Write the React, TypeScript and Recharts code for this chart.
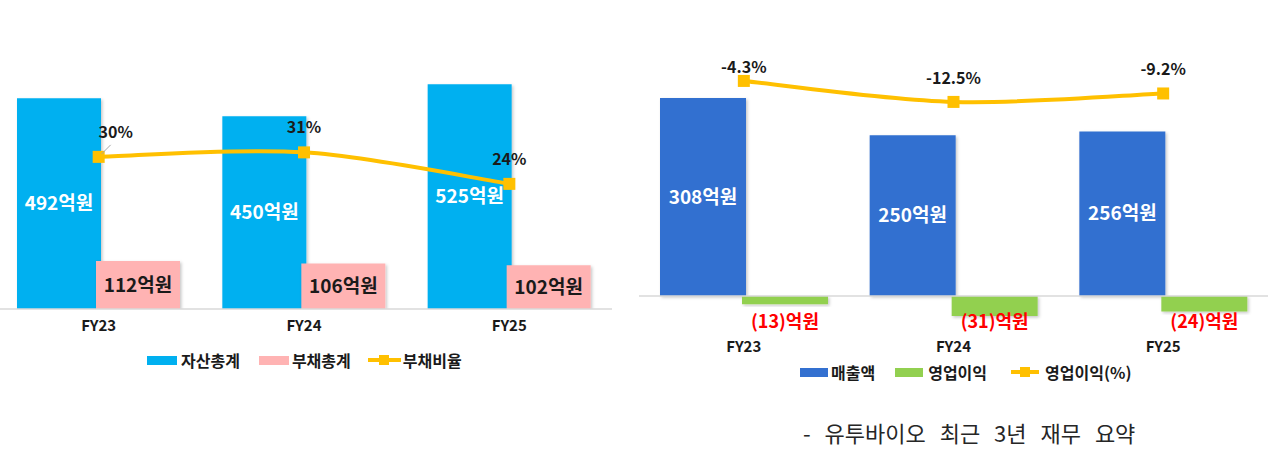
import React from 'react';
import { ComposedChart, Bar, Line, XAxis, YAxis, LabelList, ReferenceLine } from 'recharts';

const FONT = '"Noto Sans CJK KR", "Noto Sans", sans-serif';

// ---- data ----
const years = ['FY23', 'FY24', 'FY25'];
const totalAssets = [492, 450, 525];
const totalLiabilities = [112, 106, 102];
const debtRatio = [30, 31, 24];
const revenue = [308, 250, 256];
const operatingProfit = [-13, -31, -24];
const operatingMargin = [-4.3, -12.5, -9.2];

const leftData = years.map((y, i) => ({
  year: y,
  assets: totalAssets[i],
  liabilities: totalLiabilities[i],
  ratio: debtRatio[i],
}));

const rightData = years.map((y, i) => ({
  year: y,
  revenue: revenue[i],
  profit: operatingProfit[i],
  margin: operatingMargin[i],
}));

const C = {
  assets: '#00B0F0',
  liab: '#FFB3B3',
  yellow: '#FFC000',
  revenue: '#3370D0',
  profit: '#92D050',
  red: '#FF0000',
  text: '#1a1a1a',
  axis: '#D9D9D9',
};

// Spreadsheet-style smoothed line (Catmull-Rom with 1/6 tangents)
function smoothCurve(context: any) {
  let pts: [number, number][] = [];
  return {
    areaStart() {},
    areaEnd() {},
    lineStart() {
      pts = [];
    },
    point(x: number, y: number) {
      pts.push([+x, +y]);
    },
    lineEnd() {
      if (!pts.length) return;
      context.moveTo(pts[0][0], pts[0][1]);
      for (let i = 0; i < pts.length - 1; i++) {
        const p0 = pts[i - 1] ?? pts[i];
        const p1 = pts[i];
        const p2 = pts[i + 1];
        const p3 = pts[i + 2] ?? pts[i + 1];
        const c1x = p1[0] + (p2[0] - p0[0]) / 6;
        const c1y = p1[1] + (p2[1] - p0[1]) / 6;
        const c2x = p2[0] - (p3[0] - p1[0]) / 6;
        const c2y = p2[1] - (p3[1] - p1[1]) / 6;
        context.bezierCurveTo(c1x, c1y, c2x, c2y, p2[0], p2[1]);
      }
    },
  };
}

const SquareDot = (p: any) => {
  const { cx, cy } = p;
  if (cx == null || cy == null) return <g />;
  return <rect x={cx - 6} y={cy - 6} width={12} height={12} fill={C.yellow} />;
};

const LeftRatioLabel = (p: any) => {
  const vb = p.viewBox ?? {};
  const x = p.x ?? vb.x;
  const y = p.y ?? vb.y;
  const i = p.index ?? debtRatio.indexOf(p.value);
  const first = i === 0;
  return (
    <g>
      {first && <line x1={x + 3} y1={y - 3} x2={x + 12} y2={y - 12} stroke="#A6A6A6" strokeWidth={1} />}
      <text
        x={x + (first ? 17 : 0)}
        y={y - 26}
        textAnchor="middle"
        dominantBaseline="central"
        fill={C.text}
        fontSize={16}
        fontWeight={700}
        fontFamily={FONT}
      >
        {p.value}%
      </text>
    </g>
  );
};

const RightMarginLabel = (p: any) => {
  const vb = p.viewBox ?? {};
  const x = p.x ?? vb.x;
  const y = p.y ?? vb.y;
  const i = p.index ?? operatingMargin.indexOf(p.value);
  const off = i === 0 ? 15 : 25;
  return (
    <text
      x={x}
      y={y - off}
      textAnchor="middle"
      dominantBaseline="central"
      fill={C.text}
      fontSize={16}
      fontWeight={700}
      fontFamily={FONT}
    >
      {p.value}%
    </text>
  );
};

const LossLabel = (p: any) => {
  const vb = p.viewBox ?? p;
  const { x, y, width, height } = vb;
  const top = Math.min(y, y + height);
  return (
    <text
      x={x + width / 2}
      y={top + 24}
      textAnchor="middle"
      dominantBaseline="central"
      fill={C.red}
      fontSize={18}
      fontWeight={700}
      fontFamily={FONT}
    >
      ({Math.abs(p.value)})억원
    </text>
  );
};

const tickStyle = { fill: C.text, fontSize: 15, fontWeight: 700, fontFamily: FONT };

const LegendSquare = ({ color, label, w = 30, gap = 4 }: any) => (
  <div style={{ display: 'flex', alignItems: 'center' }}>
    <div style={{ width: w, height: 9, background: color }} />
    <span style={{ marginLeft: gap }}>{label}</span>
  </div>
);

const LegendLine = ({ label, w = 33, gap = 2 }: any) => (
  <div style={{ display: 'flex', alignItems: 'center' }}>
    <div style={{ position: 'relative', width: w, height: 12 }}>
      <div style={{ position: 'absolute', left: 0, right: 0, top: 4, height: 4, background: C.yellow }} />
      <div style={{ position: 'absolute', left: w / 2 - 5, top: 1, width: 10, height: 10, background: C.yellow }} />
    </div>
    <span style={{ marginLeft: gap }}>{label}</span>
  </div>
);

const legendText: React.CSSProperties = {
  position: 'absolute',
  display: 'flex',
  alignItems: 'center',
  fontFamily: FONT,
  fontWeight: 700,
  fontSize: 16,
  lineHeight: '16px',
  color: C.text,
  whiteSpace: 'nowrap',
};

const barLabelProps = { fontSize: 19, fontWeight: 700, fontFamily: FONT, formatter: (v: any) => `${v}억원` };

export default function App() {
  return (
    <div
      style={{
        position: 'absolute',
        left: 0,
        top: 0,
        width: 1268,
        height: 450,
        background: '#fff',
        overflow: 'hidden',
        fontFamily: FONT,
      }}
    >
      {/* Left chart */}
      <div style={{ position: 'absolute', left: -4, top: 0 }}>
        <ComposedChart
          width={616}
          height={345}
          data={leftData}
          margin={{ top: 52, right: 0, bottom: 0, left: 0 }}
          barGap={-5}
        >
          <defs>
            <filter id="shL" x="-20%" y="-20%" width="140%" height="140%">
              <feDropShadow dx="1.5" dy="1.5" stdDeviation="1.5" floodColor="#000" floodOpacity="0.22" />
            </filter>
          </defs>
          <XAxis
            dataKey="year"
            height={36}
            tickLine={false}
            axisLine={{ stroke: C.axis, strokeWidth: 1.5 }}
            tick={tickStyle}
            tickMargin={5}
            interval={0}
          />
          <YAxis yAxisId="l" hide domain={[0, 600]} allowDataOverflow />
          <YAxis yAxisId="r" orientation="right" hide domain={[-3.8, 53.3]} allowDataOverflow />
          <Bar yAxisId="l" dataKey="assets" fill={C.assets} barSize={84} isAnimationActive={false} filter="url(#shL)">
            <LabelList dataKey="assets" position="center" fill="#fff" {...barLabelProps} />
          </Bar>
          <Bar yAxisId="l" dataKey="liabilities" fill={C.liab} barSize={84} isAnimationActive={false} filter="url(#shL)">
            <LabelList dataKey="liabilities" position="center" fill={C.text} {...barLabelProps} />
          </Bar>
          <Line
            yAxisId="r"
            type={smoothCurve as any}
            dataKey="ratio"
            stroke={C.yellow}
            strokeWidth={4}
            dot={<SquareDot />}
            activeDot={false}
            isAnimationActive={false}
          >
            <LabelList dataKey="ratio" content={<LeftRatioLabel />} />
          </Line>
        </ComposedChart>
      </div>

      {/* Left legend */}
      <div style={{ ...legendText, left: 147, top: 352 }}>
        <LegendSquare color={C.assets} label="자산총계" />
        <div style={{ width: 19 }} />
        <LegendSquare color={C.liab} label="부채총계" gap={3} />
        <div style={{ width: 17 }} />
        <LegendLine label="부채비율" />
      </div>

      {/* Right chart */}
      <div style={{ position: 'absolute', left: 639, top: 0 }}>
        <ComposedChart
          width={629}
          height={360}
          data={rightData}
          margin={{ top: 52, right: 0, bottom: 0, left: 0 }}
          barGap={-4}
        >
          <defs>
            <filter id="shR" x="-20%" y="-20%" width="140%" height="140%">
              <feDropShadow dx="1.5" dy="1.5" stdDeviation="1.5" floodColor="#000" floodOpacity="0.22" />
            </filter>
          </defs>
          <XAxis
            dataKey="year"
            height={30}
            tickLine={false}
            axisLine={false}
            tick={tickStyle}
            tickMargin={5}
            interval={0}
          />
          <YAxis yAxisId="l" hide domain={[-52.9, 379.5]} allowDataOverflow />
          <YAxis yAxisId="r" orientation="right" hide domain={[-101.6, 7.0]} allowDataOverflow />
          <ReferenceLine yAxisId="l" y={0} stroke={C.axis} strokeWidth={1.5} />
          <Bar yAxisId="l" dataKey="revenue" fill={C.revenue} barSize={86} isAnimationActive={false} filter="url(#shR)">
            <LabelList dataKey="revenue" position="center" fill="#fff" {...barLabelProps} />
          </Bar>
          <Bar yAxisId="l" dataKey="profit" fill={C.profit} barSize={86} isAnimationActive={false} filter="url(#shR)">
            <LabelList dataKey="profit" content={<LossLabel />} />
          </Bar>
          <Line
            yAxisId="r"
            type={smoothCurve as any}
            dataKey="margin"
            stroke={C.yellow}
            strokeWidth={4}
            dot={<SquareDot />}
            activeDot={false}
            isAnimationActive={false}
          >
            <LabelList dataKey="margin" content={<RightMarginLabel />} />
          </Line>
        </ComposedChart>
      </div>

      {/* Right legend */}
      <div style={{ ...legendText, left: 800, top: 364 }}>
        <LegendSquare color={C.revenue} label="매출액" w={28} gap={3} />
        <div style={{ width: 20 }} />
        <LegendSquare color={C.profit} label="영업이익" w={28} gap={5} />
        <div style={{ width: 24 }} />
        <LegendLine label="영업이익(%)" w={28} gap={6} />
      </div>

      {/* Caption */}
      <div
        style={{
          position: 'absolute',
          left: 803,
          top: 419,
          fontFamily: FONT,
          fontSize: 22,
          lineHeight: '26px',
          color: '#262626',
          wordSpacing: 9,
          whiteSpace: 'nowrap',
        }}
      >
        - 유투바이오 최근 3년 재무 요약
      </div>
    </div>
  );
}
